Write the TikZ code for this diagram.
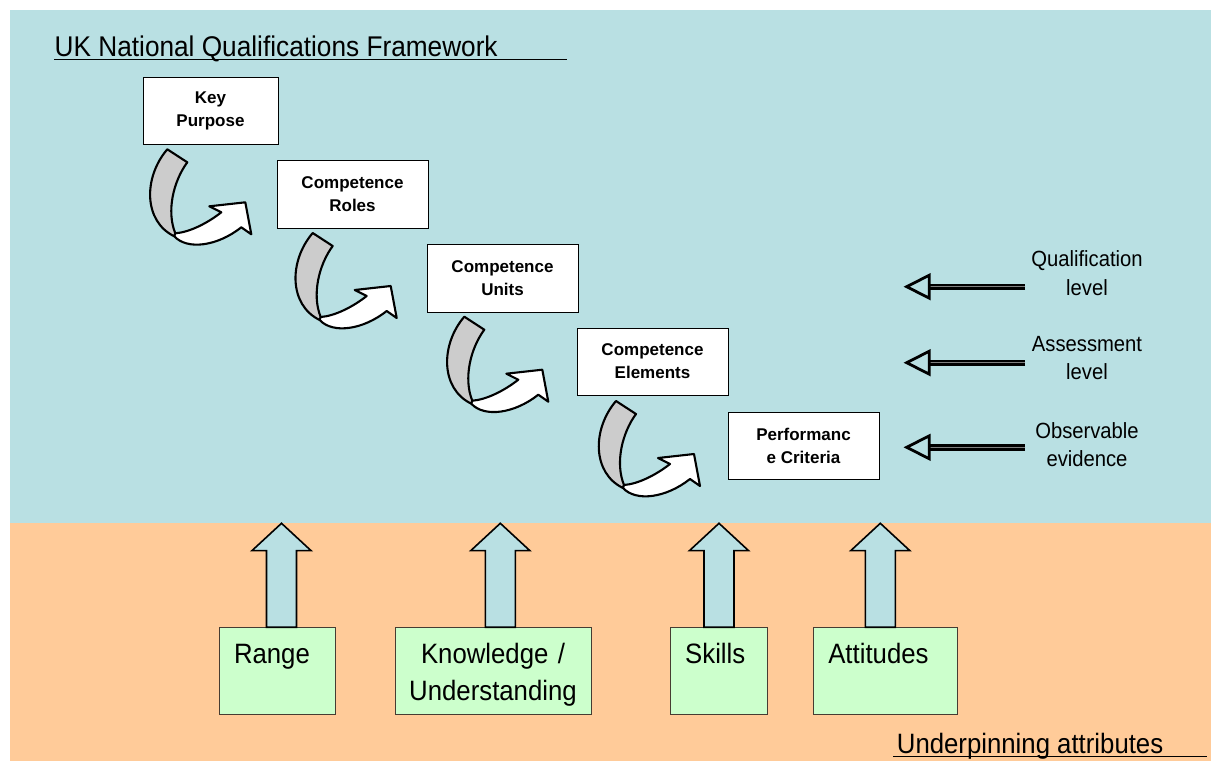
\documentclass[tikz,border=0pt]{standalone}
\usepackage{fontspec}
\setmainfont{Liberation Sans}
\newfontfamily\narrowsans[FakeStretch=0.92]{Liberation Sans}
\usetikzlibrary{calc}
\definecolor{panelblue}{RGB}{185,224,227}
\definecolor{panelorange}{RGB}{255,203,153}
\definecolor{boxgreen}{RGB}{204,255,204}
\definecolor{bandgray}{RGB}{204,204,204}
\definecolor{greenedge}{RGB}{70,60,50}
\tikzset{
  wbox/.style={draw=black, fill=white, line width=0.9pt, inner sep=0pt,
    minimum width=151pt, minimum height=68pt, align=center,
    font=\bfseries\fontsize{17}{23}\selectfont},
  gbox/.style={draw=greenedge, fill=boxgreen, line width=0.9pt, inner ysep=0pt,
    text height=35.6pt, text depth=51pt,
    font=\narrowsans\fontsize{28}{36.7}\selectfont},
  lvltext/.style={inner sep=0pt, align=center, anchor=north,
    font=\narrowsans\fontsize{22}{28.3}\selectfont},
  bandline/.style={draw=black, line width=2.1pt, line join=round},
  upblock/.style={draw=black, fill=panelblue, line width=1.6pt, line join=miter},
  lvlshaft/.style={draw=black, line width=2.8pt, double=gray, double distance=0.8pt},
  lvlhead/.style={draw=black, fill=panelblue, line width=2.8pt, line join=miter},
  uline/.style={draw=black, line width=1.4pt},
  curvarrow/.pic={
    \path[bandline, fill=bandgray] (0,0) -- (20,13)
      .. controls (6,32) and (-1,62) .. (8,84) -- (7,87)
      .. controls (-24,72) and (-24,28) .. (0,0) -- cycle;
    \path[bandline, fill=white] (7,87)
      .. controls (20,101) and (50,97) .. (74,78) -- (84,85) -- (78,53)
      -- (42,57) -- (54,63)
      .. controls (40,74) and (22,83) .. (8,84) -- cycle;
  }
}
\begin{document}
\begin{tikzpicture}[x=1pt,y=-1pt]
\useasboundingbox (0,0) rectangle (1211,761);
% panels
\fill[panelblue] (10,10) rectangle (1211,523);
\fill[panelorange] (10,523) rectangle (1211,761);

% title
\node[anchor=base west, inner sep=0pt, font=\narrowsans\fontsize{28.5}{34}\selectfont] (title) at (54.5,56.5) {UK National Qualifications Framework};
\coordinate (titleStart) at (54,59.5);
\coordinate (titleEnd) at (567,59.5);
\draw[uline] (titleStart) -- (titleEnd);

% curved arrows
\pic at (167.3,149.3) {curvarrow};
\pic at (312.7,233) {curvarrow};
\pic at (464.3,316.7) {curvarrow};
\pic at (616,401) {curvarrow};

% white boxes
\node[wbox, minimum width=135pt, minimum height=67pt] (kp) at (210.5,110.5) {Key\\Purpose};
\node[wbox] (roles) at (352.5,194) {Competence\\Roles};
\node[wbox] (units) at (502.5,278) {Competence\\Units};
\node[wbox, minimum height=67pt] (elems) at (652.5,361.5) {Competence\\Elements};
\node[wbox, minimum height=67pt] (perf) at (803.5,445.5) {Performanc\\e Criteria};

% level labels and arrows
\node[lvltext] (qual) at (1087,250.8) {Qualification\\level};
\node[lvltext] (assess) at (1087,335.9) {Assessment\\level};
\node[lvltext] (obs) at (1087,422.5) {Observable\\evidence};

\coordinate (qs) at (1025,286.7); \coordinate (qe) at (929,286.7); \coordinate (qt) at (906.7,286.7);
\coordinate (as) at (1025,362.7); \coordinate (ae) at (929,362.7); \coordinate (at) at (906.7,362.7);
\coordinate (os) at (1025,447.3); \coordinate (oe) at (929,447.3); \coordinate (ot) at (906.7,447.3);
\draw[lvlshaft] (qs) -- (qe);
\draw[lvlshaft] (as) -- (ae);
\draw[lvlshaft] (os) -- (oe);
\draw[lvlhead] (qt) -- ++(22.6,-11.5) -- ++(0,23) -- cycle;
\draw[lvlhead] (at) -- ++(22.6,-11.5) -- ++(0,23) -- cycle;
\draw[lvlhead] (ot) -- ++(22.6,-11.5) -- ++(0,23) -- cycle;

% green boxes
\node[gbox, inner xsep=15pt, text width=86pt, align=left] (range) at (277,671) {Range};
\node[gbox, inner xsep=13pt, text width=170pt, align=center] (know) at (493,671) {Knowledge /\\Understanding};
\node[gbox, inner xsep=14.5pt, text width=68pt, align=left] (skills) at (719.2,671) {Skills};
\node[gbox, inner xsep=15pt, text width=114pt, align=left] (att) at (885.3,671) {Attitudes};

% upward block arrows
\coordinate (rtip) at (281.5,523.3);
\coordinate (ktip) at (500.3,523.3);
\coordinate (stip) at (719,523.3);
\coordinate (atip) at (880.3,523.3);
\foreach \t/\b in {rtip/range, ktip/know, stip/skills, atip/att}{
  \draw[upblock] (\t) -- ++(29.5,27.3) -- ++(-14.5,0)
    -- ($(\t |- \b.north)+(15,0)$) -- ($(\t |- \b.north)+(-15,0)$)
    -- ($(\t)+(-15,27.3)$) -- ++(-14.5,0) -- cycle;
}

% bottom caption
\node[anchor=base west, inner sep=0pt, font=\narrowsans\fontsize{28}{34}\selectfont] (under) at (896.7,753.3) {Underpinning attributes};
\coordinate (underStart) at (893,756.7);
\coordinate (underEnd) at (1206.7,756.7);
\draw[uline] (underStart) -- (underEnd);
\end{tikzpicture}
\end{document}
